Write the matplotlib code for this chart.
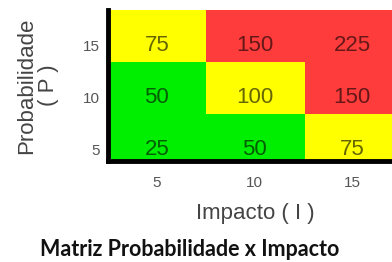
import numpy as np
import matplotlib.pyplot as plt
from matplotlib.colors import ListedColormap, BoundaryNorm

impacto = [5, 10, 15]
probabilidade = [5, 10, 15]
# linhas = probabilidade (5, 10, 15), colunas = impacto (5, 10, 15)
risco = [
    [25, 50, 75],
    [50, 100, 150],
    [75, 150, 225],
]

plt.rcParams['font.family'] = ['Liberation Sans', 'DejaVu Sans']

fig = plt.figure(figsize=(3.92, 2.62), dpi=100)
ax = fig.add_axes([108 / 392, 1 - 161 / 262, 295 / 392, 151 / 262])

cmap = ListedColormap(['#00ee00', '#ffff00', '#ff3c3c'])
norm = BoundaryNorm([0, 60, 120, 300], cmap.N)

# bordas das células (layout)
xb = [2.5, 7.5, 12.6, 17.6]
yb = [3.85, 8.4, 13.35, 18.4]
ax.pcolormesh(xb, yb, np.array(risco), cmap=cmap, norm=norm)

for i, p in enumerate(probabilidade):
    for j, im in enumerate(impacto):
        ax.text(im, p, str(risco[i][j]), ha='center', va='center',
                fontsize=16, color='black', alpha=0.6)

ax.set_xlim(2.5, 17.6)
ax.set_ylim(3.85, 18.4)
ax.set_xticks(impacto)
ax.set_yticks(probabilidade)
ax.tick_params(length=0, labelsize=11, colors='#555555')
ax.tick_params(axis='x', pad=11)
ax.tick_params(axis='y', pad=6)
for s in ['top', 'right']:
    ax.spines[s].set_visible(False)
for s in ['left', 'bottom']:
    ax.spines[s].set_linewidth(3.5)
    ax.spines[s].set_color('black')

ax.set_xlabel('Impacto ( I )', fontsize=16, color='#444444', labelpad=9)
ax.set_ylabel('Probabilidade\n( P )', fontsize=16, color='#444444',
              labelpad=17, linespacing=1.05)

fig.text(190 / 392, 1 - 250 / 262, 'Matriz Probabilidade x Impacto',
         ha='center', va='center', fontsize=15.5, fontweight='bold',
         family=['Lato', 'DejaVu Sans'], color='#111111')

fig.savefig('out.png', dpi=100)
